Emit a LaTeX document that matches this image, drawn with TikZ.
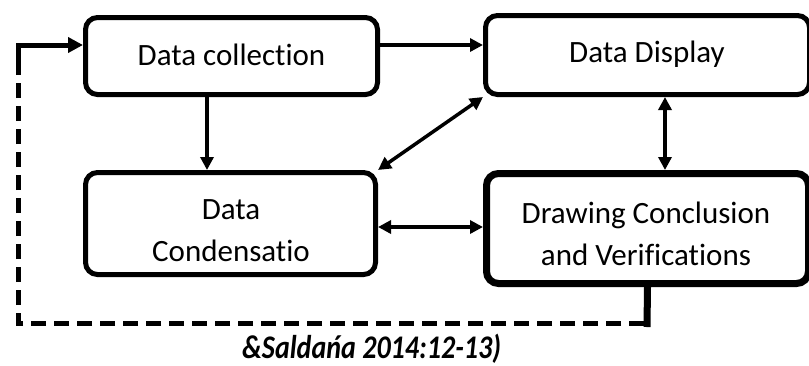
\documentclass[tikz,border=0pt]{standalone}
\usepackage{fontspec}
\setmainfont{Carlito}[Ligatures=CommonOff]
\usetikzlibrary{arrows.meta}
\begin{document}
\begin{tikzpicture}[x=1pt,y=-1pt,
  box/.style={draw, line width=5pt, rounded corners=12pt, inner sep=0pt},
  lbl/.style={align=center, inner sep=0pt, font=\fontsize{31}{42}\selectfont},
  arr/.style={line width=3.5pt, -{Triangle[length=13pt,width=13pt]}},
  darr/.style={line width=3.5pt, {Triangle[length=13pt,width=13pt]}-{Triangle[length=13pt,width=13pt]}},
  feed/.style={line width=5pt, dash pattern=on 15pt off 8pt},
]
\useasboundingbox (0,0) rectangle (809,365);

\node[box, minimum width=292pt, minimum height=77pt] (coll) at (231.5,56) {};
\node[lbl] (tcoll) at (231.5,55) {Data collection};

\node[box, minimum width=324pt, minimum height=79pt] (disp) at (647.5,55) {};
\node[lbl] (tdisp) at (647,54) {Data Display};

\node[box, minimum width=290pt, minimum height=102pt] (cond) at (230.5,223.5) {};
\node[lbl] (tcond) at (231,231) {Data\\Condensatio};

\node[box, line width=7pt, minimum width=322pt, minimum height=110pt] (drw) at (647.5,228.5) {};
\node[lbl] (tdrw) at (646,234) {Drawing Conclusion\\and Verifications};

% connectors
\draw[arr] ([yshift=11pt]coll.east) -- ([yshift=11pt]coll.east -| disp.west);
\draw[arr] ([xshift=-24.5pt]coll.south) -- ([xshift=-24.5pt]coll.south |- cond.north);
\draw[darr] ([xshift=17.5pt]disp.south) -- ([xshift=17.5pt]disp.south |- drw.north);
\draw[darr] (cond.north east) -- (disp.south west);
\draw[darr] ([yshift=-3.5pt]cond.east) -- ([yshift=-3.5pt]cond.east -| drw.west);

% feedback loop
\coordinate (f1) at (647,327);
\coordinate (f2) at (644,323);
\coordinate (f3) at (18,323);
\coordinate (f4) at (18,60);
\coordinate (f5) at (18,45);
\draw[line width=7pt] (drw.south) -- (f1);
\draw[feed] (f2) -- (f3) -- (f4);
\draw[line width=5pt, -{Triangle[length=15pt,width=15pt]}] (f4) -- (f5) -- (f5 -| coll.west);

\node[anchor=base west, inner sep=0pt, font=\fontsize{33}{38}\selectfont\bfseries\itshape] (cap) at (242,358) {\scalebox{0.85}[1]{\&Saldańa 2014:12-13)}};
\end{tikzpicture}
\end{document}
